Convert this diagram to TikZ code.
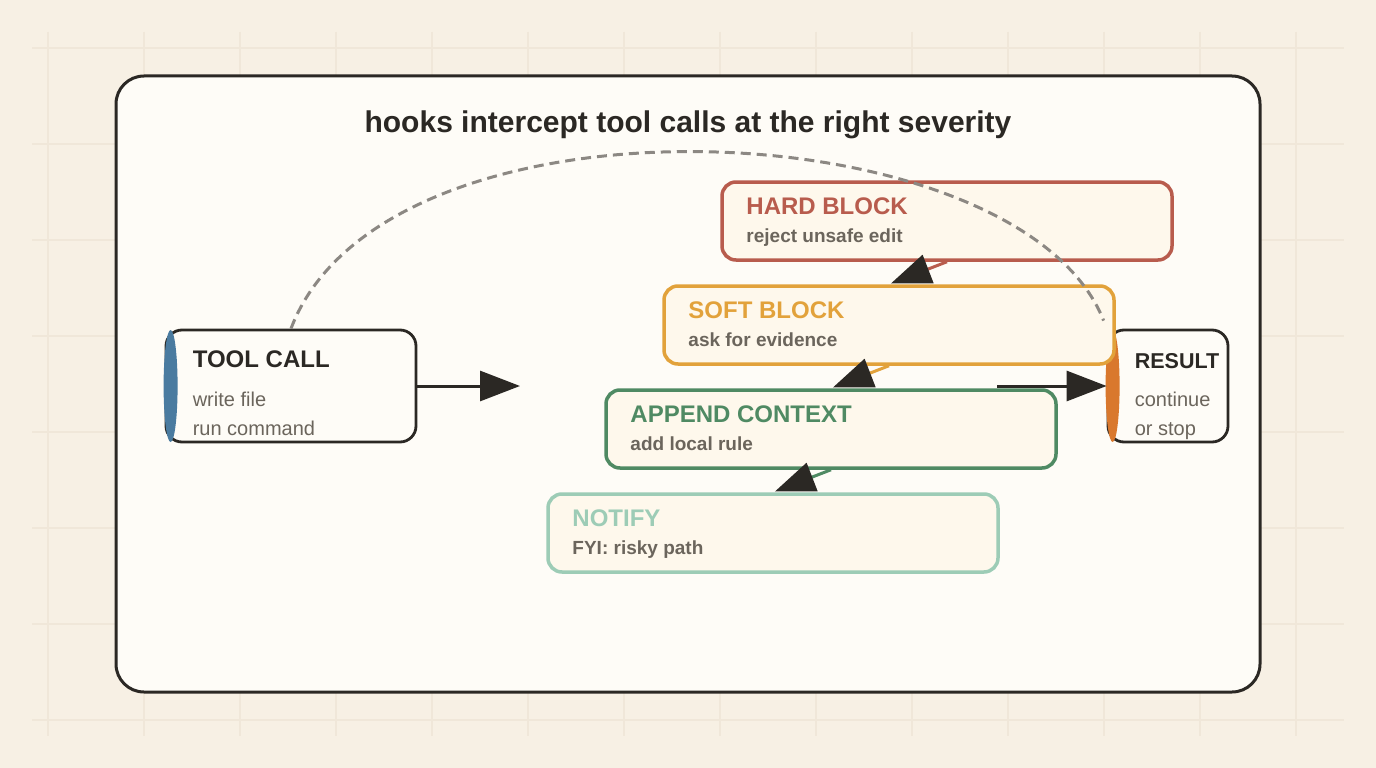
\documentclass[tikz,border=0pt]{standalone}
\usepackage{fontspec}
\setmainfont{Liberation Sans}
\usetikzlibrary{arrows.meta,calc}

\definecolor{paper}{HTML}{F7F0E4}
\definecolor{gridtone}{HTML}{F0E7D9}
\definecolor{panelfill}{HTML}{FEFCF7}
\definecolor{ink}{HTML}{2B2824}
\definecolor{mutedtext}{HTML}{6B655C}
\definecolor{hookfill}{HTML}{FEF8EC}
\definecolor{hardred}{HTML}{B85C4D}
\definecolor{softamber}{HTML}{E2A23B}
\definecolor{ctxgreen}{HTML}{4F8A63}
\definecolor{notemint}{HTML}{9DCCB6}
\definecolor{callblue}{HTML}{4A7BA0}
\definecolor{resorange}{HTML}{D9782D}
\definecolor{arcgray}{HTML}{8C8883}

\tikzset{
  gridline/.style={gridtone, line width=1.5pt},
  panel/.style={draw=ink, fill=panelfill, line width=3pt, rounded corners=28pt},
  hook/.style={draw=#1, fill=hookfill, line width=3.5pt, rounded corners=14pt,
    minimum width=450pt, minimum height=78pt, inner sep=0pt},
  endbox/.style={draw=ink, fill=panelfill, line width=2.8pt, rounded corners=16pt,
    minimum height=112pt, inner sep=0pt},
  hooktitle/.style={anchor=base west, inner sep=0pt, font=\fontsize{24}{28}\selectfont\bfseries},
  hooknote/.style={anchor=base west, inner sep=0pt, text=mutedtext, font=\fontsize{19}{23}\selectfont\bfseries},
  endnote/.style={anchor=base west, inner sep=0pt, text=mutedtext, font=\fontsize{20}{24}\selectfont},
  flow/.style={draw=#1, line width=3pt, -{Triangle[length=40pt,width=30pt,color=ink]}},
  retry/.style={draw=arcgray, line width=3pt, dash pattern=on 10pt off 6pt}
}

\begin{document}
\begin{tikzpicture}[x=1pt, y=-1pt]
        % Fondo e pannello
        \fill[paper] (0,0) rectangle (1376,768);
        \useasboundingbox (0,0) rectangle (1376,768);
        \foreach \x in {48,144,...,1296} \draw[gridline] (\x,32) -- (\x,736);
        \foreach \y in {48,144,...,720} \draw[gridline] (32,\y) -- (1344,\y);
        \draw[panel] (116,76) rectangle (1260,692);

        \node[anchor=base, inner sep=0pt, text=ink, font=\fontsize{30}{36}\selectfont\bfseries]
          (heading) at (688,132) {hooks intercept tool calls at the right severity};

        % Estremi
        \node[endbox, minimum width=250pt] (tool) at (291,386) {};
        \fill[callblue] ([xshift=6pt]tool.west) ellipse [x radius=7pt, y radius=56pt];
        \node[hooktitle, text=ink] (toolhead) at ([shift={(28,39)}]tool.north west) {TOOL CALL};
        \node[endnote] (toolone) at ([shift={(28,78)}]tool.north west) {write file};
        \node[endnote] (tooltwo) at ([shift={(28,107)}]tool.north west) {run command};

        \node[endbox, minimum width=120pt] (result) at (1168,386) {};
        \fill[resorange] ([xshift=6pt]result.west) ellipse [x radius=7pt, y radius=56pt];
        \node[hooktitle, text=ink, font=\fontsize{21.5}{26}\selectfont\bfseries] (resulthead) at ([shift={(28,40)}]result.north west) {RESULT};
        \node[endnote] (resultone) at ([shift={(28,78)}]result.north west) {continue};
        \node[endnote] (resulttwo) at ([shift={(28,107)}]result.north west) {or stop};

        % Livelli
        \node[hook=hardred] (hard) at (947,221) {};
        \node[hooktitle, text=hardred] at ([shift={(26,34)}]hard.north west) {HARD BLOCK};
        \node[hooknote] at ([shift={(26,62)}]hard.north west) {reject unsafe edit};

        \node[hook=softamber] (soft) at (889,325) {};
        \node[hooktitle, text=softamber] at ([shift={(26,34)}]soft.north west) {SOFT BLOCK};
        \node[hooknote] at ([shift={(26,62)}]soft.north west) {ask for evidence};

        \node[hook=ctxgreen] (append) at (831,429) {};
        \node[hooktitle, text=ctxgreen] at ([shift={(26,34)}]append.north west) {APPEND CONTEXT};
        \node[hooknote] at ([shift={(26,62)}]append.north west) {add local rule};

        \node[hook=notemint] (notify) at (773,533) {};
        \node[hooktitle, text=notemint] at ([shift={(26,34)}]notify.north west) {NOTIFY};
        \node[hooknote] at ([shift={(26,62)}]notify.north west) {FYI: risky path};

        % Frecce
        \coordinate (gate) at (520,386);
        \coordinate (merge) at (997,386);
        \draw[flow=hardred, shorten >=2pt] (hard.south) -- (soft.north);
        \draw[flow=softamber, shorten >=2pt] (soft.south) -- (append.north);
        \draw[flow=ctxgreen, shorten >=2pt] (append.south) -- (notify.north);
        \draw[flow=ink] (tool.east) -- (gate);
        \draw[flow=ink] (merge) -- (result.west);

        % Ritorno
        \draw[retry] (tool.north) .. controls (385,80) and (1020,108) .. ([shift={(-3,-8)}]result.north west);
    \end{tikzpicture}
\end{document}
